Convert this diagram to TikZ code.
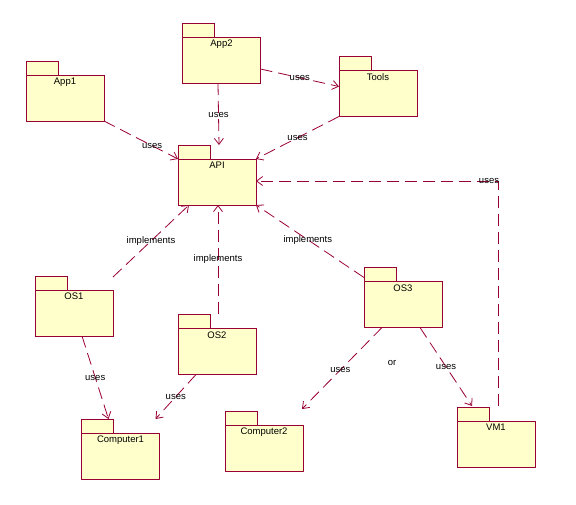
\documentclass[tikz,border=0pt]{standalone}
\usepackage{fontspec}
\setmainfont{Liberation Sans}
\usetikzlibrary{arrows.meta}
\definecolor{pkgline}{RGB}{153,0,51}
\definecolor{pkgfill}{RGB}{255,255,204}
\tikzset{
  pkg/.style={draw=pkgline, fill=pkgfill, line width=0.8pt, minimum width=78pt, minimum height=46pt, inner sep=0pt, outer sep=0pt,
     label={[anchor=north, inner sep=0pt, yshift=-3pt, font=\fontsize{9.5}{10}\selectfont]north:#1}},
  tabbox/.style={draw=pkgline, fill=pkgfill, line width=0.8pt},
  dep/.style={draw=pkgline, line width=0.8pt, dash pattern=on 12pt off 6pt, -{Straight Barb[length=6pt,width=9pt]}},
  lbl/.style={font=\fontsize{9.5}{10}\selectfont, inner sep=1pt, text=black}
}
\newcommand{\pkgtab}[1]{\draw[tabbox] (#1.north west) rectangle ++(32,-14);}
\begin{document}
\begin{tikzpicture}[x=1pt,y=-1pt]
\useasboundingbox (0,0) rectangle (576,504);
% packages
\node[pkg=App1] (app1) at (65,98) {};
\node[pkg=App2] (app2) at (221.5,60) {};
\node[pkg=API] (api) at (217,182) {};
\node[pkg=Tools] (tools) at (378,93.5) {};
\node[pkg=OS1] (os1) at (74,313) {};
\node[pkg=OS2] (os2) at (217,351.5) {};
\node[pkg=OS3] (os3) at (403,304.5) {};
\node[pkg=Computer1] (c1) at (120.5,456) {};
\node[pkg=Computer2] (c2) at (264,448) {};
\node[pkg=VM1] (vm1) at (496,444) {};
\foreach \p in {app1,app2,api,tools,os1,os2,os3,c1,c2,vm1} {\pkgtab{\p}}
% helper coordinates
\coordinate (app2s) at ([xshift=-3.5pt]app2.south);
\coordinate (apitop) at ([xshift=2pt,yshift=14pt]api.north);
\coordinate (app2e) at ([yshift=-9pt]app2.east);
\coordinate (toolsin) at ([yshift=-16pt]tools.north west);
\coordinate (apir) at ([yshift=1pt]api.east);
\coordinate (vmtop) at ([xshift=41pt,yshift=15pt]vm1.north west);
\coordinate (os1s) at ([yshift=13pt]os1.north east);
\coordinate (apib1) at ([xshift=11pt]api.south west);
\coordinate (os2s) at ([xshift=1pt,yshift=15pt]os2.north);
\coordinate (apib2) at ([xshift=1pt]api.south);
\coordinate (os3s) at ([yshift=4pt]os3.north west);
\coordinate (os1b) at ([xshift=8pt]os1.south);
\coordinate (c1t) at ([xshift=27pt,yshift=14pt]c1.north west);
\coordinate (os2b) at ([xshift=-21pt]os2.south);
\coordinate (c1r) at ([xshift=-4pt,yshift=14pt]c1.north east);
\coordinate (os3b1) at ([xshift=-21pt]os3.south);
\coordinate (c2t) at ([xshift=-1pt,yshift=16pt]c2.north east);
\coordinate (os3b2) at ([xshift=17pt]os3.south);
\coordinate (vmt) at ([xshift=15pt,yshift=15pt]vm1.north west);
% dependencies
\draw[dep] (app1.south east) -- node[lbl,pos=0.65] {uses} (api.north west);
\draw[dep] (app2s) -- node[lbl,pos=0.52] {uses} (apitop);
\draw[dep] (app2e) -- node[lbl,pos=0.5] {uses} (toolsin);
\draw[dep] (tools.south west) -- node[lbl,pos=0.5] {uses} (api.north east);
\draw[dep] (vmtop) |- node[lbl,pos=0.5,xshift=-9pt] {uses} (apir);
\draw[dep] (os1s) -- node[lbl,pos=0.5] {implements} (apib1);
\draw[dep] (os2s) -- node[lbl,pos=0.5] {implements} (apib2);
\draw[dep] (os3s) -- node[lbl,pos=0.52] {implements} (api.south east);
\draw[dep] (os1b) -- node[lbl,pos=0.5] {uses} (c1t);
\draw[dep] (os2b) -- node[lbl,pos=0.5] {uses} (c1r);
\draw[dep] (os3b1) -- node[lbl,pos=0.52] {uses} (c2t);
\draw[dep] (os3b2) -- node[lbl,pos=0.5] {uses} (vmt);
\node[lbl] (or) at (392,363) {or};
\end{tikzpicture}
\end{document}
